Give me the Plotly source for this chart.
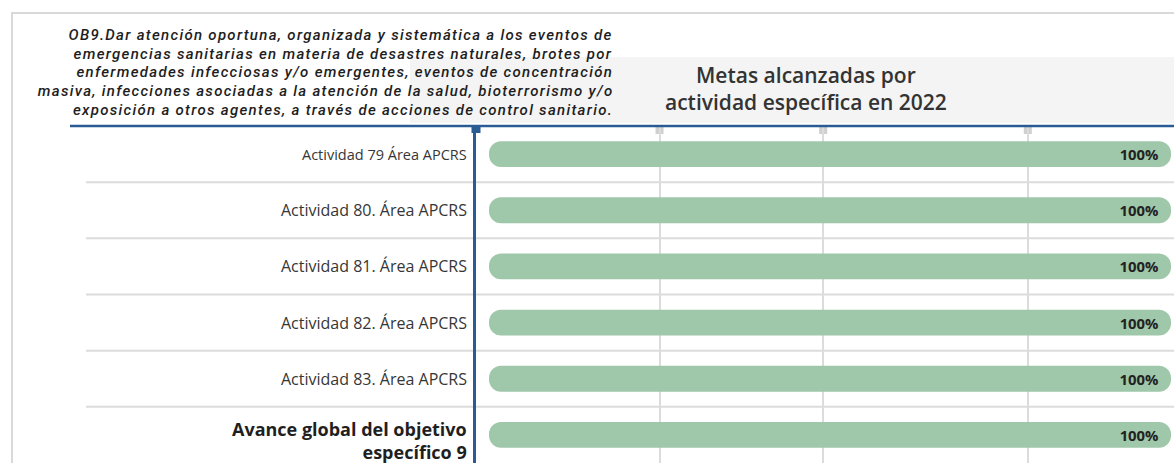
import plotly.graph_objects as go

# ---- data ----
categories = [
    "Actividad 79 Área APCRS",
    "Actividad 80. Área APCRS",
    "Actividad 81. Área APCRS",
    "Actividad 82. Área APCRS",
    "Actividad 83. Área APCRS",
    "Avance global del objetivo específico 9",
]
label_texts = [
    "Actividad 79 Área APCRS",
    "Actividad 80. Área APCRS",
    "Actividad 81. Área APCRS",
    "Actividad 82. Área APCRS",
    "Actividad 83. Área APCRS",
    "<b>Avance global del objetivo</b><br><b>específico 9</b>",
]
values = [100, 100, 100, 100, 100, 100]
value_labels = ["100%", "100%", "100%", "100%", "100%", "100%"]
grid_ticks = [25, 49, 79]

objective_lines = [
    "OB9.Dar atención oportuna, organizada y sistemática a los eventos de",
    "emergencias sanitarias en materia de desastres naturales, brotes por",
    "enfermedades infecciosas y/o emergentes, eventos de concentración",
    "masiva, infecciones asociadas a la atención de la salud, bioterrorismo y/o",
    "exposición a otros agentes, a través de acciones de control sanitario.",
]
title_lines = ["Metas alcanzadas por", "actividad específica en 2022"]

NAVY = "#2b5b95"
GREEN = "#9fc7a9"
LIGHT = "#dcdcdc"
FONT = "Open Sans"

W, H = 1174, 463
L, T = 476, 126
PW, PH = W - L, H - T


def px(xpix):
    return (xpix - L) / PW


def py(ypix):
    return (H - ypix) / PH


fig = go.Figure()
fig.add_trace(go.Bar(
    x=values,
    y=categories,
    orientation="h",
    base=0,
    width=0.46,
    marker=dict(color=GREEN, cornerradius=13, line=dict(width=0)),
    text=value_labels,
    textposition="inside",
    insidetextanchor="end",
    textfont=dict(family=FONT, size=15, color="#222222", weight="bold"),
    hoverinfo="skip",
))

shapes = []
# outer frame
shapes.append(dict(type="rect", xref="paper", yref="paper",
                   x0=px(12), x1=px(1185), y0=py(480), y1=py(13),
                   line=dict(color="#d9d9d9", width=2), layer="below"))
# header band
shapes.append(dict(type="rect", xref="paper", yref="paper",
                   x0=px(410), x1=px(1180), y0=py(123), y1=py(57),
                   fillcolor="#f4f4f4", line=dict(width=0), layer="below"))
# row separators
for i in range(len(categories) - 1):
    shapes.append(dict(type="line", xref="paper", yref="y",
                       x0=px(86), x1=1.0, y0=i + 0.5, y1=i + 0.5,
                       line=dict(color=LIGHT, width=2), layer="below"))
# navy top line
shapes.append(dict(type="line", xref="paper", yref="paper",
                   x0=px(70), x1=1.0, y0=1, y1=1,
                   line=dict(color=NAVY, width=2.5), layer="above"))
# grey squares at the top of the gridlines
for t in grid_ticks:
    shapes.append(dict(type="rect", xref="x", yref="paper",
                       xsizemode="pixel", xanchor=t, x0=-4, x1=4,
                       ysizemode="pixel", yanchor=1, y0=-8, y1=0,
                       fillcolor="#d0d0d0", line=dict(width=0), layer="below"))
# navy square on the axis top
shapes.append(dict(type="rect", xref="paper", yref="paper",
                   xsizemode="pixel", xanchor=0, x0=-4.5, x1=4.5,
                   ysizemode="pixel", yanchor=1, y0=-7, y1=1,
                   fillcolor=NAVY, line=dict(width=0), layer="above"))

annotations = []
label_sizes = [14.5, 16, 16, 16, 16, 18]
for i, (cat, txt) in enumerate(zip(categories, label_texts)):
    last = i == len(categories) - 1
    annotations.append(dict(
        x=px(469), xref="paper", y=cat, yref="y",
        xanchor="right", yanchor="middle", align="right",
        text=txt, showarrow=False,
        yshift=-6 if last else 0,
        font=dict(family=FONT, size=label_sizes[i],
                  color="#1f1f1f" if last else "#363636"),
    ))
obj_y = [35, 53.7, 72.4, 91.1, 109.8]
for line, yy in zip(objective_lines, obj_y):
    annotations.append(dict(
        x=px(615), xref="paper", y=py(yy), yref="paper",
        xanchor="right", yanchor="middle", align="right",
        text=line, showarrow=False,
        font=dict(family="Roboto", size=15, color="#1e1e1e", style="italic", weight=500),
    ))
for line, yy in zip(title_lines, [75, 102]):
    annotations.append(dict(
        x=px(806), xref="paper", y=py(yy), yref="paper",
        xanchor="center", yanchor="middle", text=line, showarrow=False,
        font=dict(family=FONT, size=21, color="#333333", weight=600),
    ))

fig.update_layout(
    width=W, height=H,
    margin=dict(l=L, r=0, t=T, b=0, pad=0),
    paper_bgcolor="white",
    plot_bgcolor="rgba(0,0,0,0)",
    showlegend=False,
    shapes=shapes,
    annotations=annotations,
    xaxis=dict(range=[-1.91, 100.44], tickvals=grid_ticks, showticklabels=False,
               showgrid=True, gridcolor=LIGHT, gridwidth=2, zeroline=False,
               showline=False, ticks="", fixedrange=True),
    yaxis=dict(autorange="reversed", showticklabels=False, showgrid=False,
               zeroline=False, showline=True, linecolor=NAVY, linewidth=2.5,
               ticks="", fixedrange=True),
)

post = (
    "document.body.style.margin='0';document.body.style.overflow='hidden';"
    "document.querySelectorAll('.annotation-text').forEach(function(t){"
    "if((t.style.fontStyle||'')==='italic'){t.style.letterSpacing='1.3px';}});"
)
fig.write_html("out.html", config={"displayModeBar": False}, post_script=post)
